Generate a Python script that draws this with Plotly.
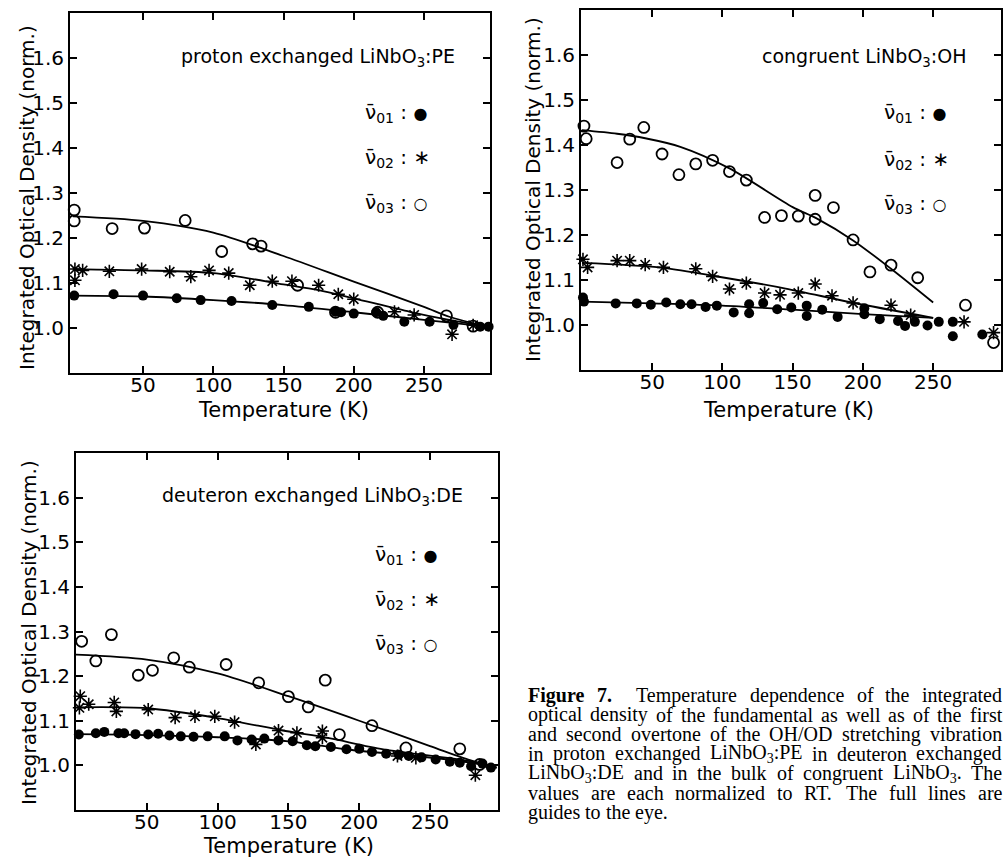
import re
import plotly.graph_objects as go

W, H = 1003, 859

# ---------------- data (Temperature in K, normalized integrated optical density) -------------
# proton exchanged LiNbO3:PE
pe_T01 = [1, 29, 50, 74, 91, 113, 142, 168, 187, 191, 200, 216, 221, 236, 254, 271, 290, 296]
pe_v01 = [1.072, 1.075, 1.072, 1.066, 1.062, 1.060, 1.051, 1.047, 1.036, 1.035, 1.032, 1.035,
          1.027, 1.014, 1.014, 1.007, 1.003, 1.003]
pe_T02 = [1.5, 1.5, 7, 26, 49, 69, 84, 97, 111, 126, 142, 156, 175, 189, 200, 229, 243, 270, 285]
pe_v02 = [1.131, 1.106, 1.128, 1.126, 1.131, 1.125, 1.114, 1.128, 1.122, 1.095, 1.104, 1.104,
          1.095, 1.075, 1.064, 1.036, 1.029, 0.986, 1.006]
pe_T03 = [1, 1, 28, 51, 80, 106, 128, 134, 160, 187, 217, 266, 285]
pe_v03 = [1.262, 1.238, 1.221, 1.222, 1.239, 1.170, 1.187, 1.182, 1.095, 1.035, 1.035, 1.027, 1.004]
pe_Tc01 = [0, 50, 100, 150, 200, 250, 295]
pe_vc01 = [1.072, 1.070, 1.062, 1.051, 1.035, 1.018, 1.003]
pe_Tc02 = [0, 50, 100, 150, 175, 200, 240, 266, 295]
pe_vc02 = [1.131, 1.128, 1.122, 1.097, 1.084, 1.066, 1.036, 1.019, 1.003]
pe_Tc03 = [0, 50, 100, 150, 200, 250, 268, 295]
pe_vc03 = [1.248, 1.238, 1.212, 1.160, 1.103, 1.047, 1.025, 1.003]

# congruent LiNbO3:OH
oh_T01 = [0.7, 1.4, 24, 39, 49, 60, 70, 78, 88, 96, 108, 119, 119, 129, 139, 149, 160, 160, 171,
          182, 201, 201, 212, 225, 230, 237, 246, 254, 264, 264, 285]
oh_v01 = [1.061, 1.052, 1.048, 1.048, 1.045, 1.050, 1.046, 1.046, 1.040, 1.043, 1.028, 1.046,
          1.026, 1.049, 1.035, 1.039, 1.043, 1.020, 1.034, 1.018, 1.037, 1.024, 1.013, 1.009,
          0.998, 1.007, 0.999, 1.007, 1.007, 0.975, 0.979]
oh_T02 = [0.7, 4, 25, 34, 45, 58, 81, 93, 105, 117, 130, 141, 154, 166, 178, 193, 220, 234, 272, 293]
oh_v02 = [1.146, 1.128, 1.143, 1.143, 1.134, 1.128, 1.125, 1.108, 1.080, 1.093, 1.071, 1.067,
          1.071, 1.091, 1.065, 1.049, 1.044, 1.022, 1.007, 0.983]
oh_T03 = [1.4, 3, 25, 34, 44, 57, 69, 81, 93, 105, 117, 130, 142, 154, 166, 166, 179, 193, 205,
          220, 239, 273, 293]
oh_v03 = [1.442, 1.414, 1.361, 1.413, 1.439, 1.380, 1.334, 1.358, 1.366, 1.341, 1.322, 1.239,
          1.243, 1.242, 1.288, 1.235, 1.261, 1.189, 1.118, 1.133, 1.105, 1.044, 0.961]
oh_Tc01 = [0, 50, 100, 150, 200, 250]
oh_vc01 = [1.052, 1.048, 1.043, 1.034, 1.024, 1.016]
oh_Tc02 = [0, 55, 92, 145, 192, 250]
oh_vc02 = [1.138, 1.128, 1.110, 1.081, 1.050, 1.016]
oh_Tc03 = [0, 25, 45, 70, 105, 150, 167, 193, 220, 250]
oh_vc03 = [1.433, 1.425, 1.415, 1.396, 1.348, 1.262, 1.237, 1.188, 1.125, 1.050]

# deuteron exchanged LiNbO3:DE
de_T01 = [2, 14, 20, 30, 34, 42, 51, 58, 66, 74, 83, 93, 105, 114, 124, 133, 143, 153, 163, 169,
          180, 191, 200, 209, 219, 228, 235, 244, 254, 264, 271, 279, 287, 293]
de_v01 = [1.069, 1.072, 1.075, 1.072, 1.072, 1.070, 1.069, 1.071, 1.067, 1.065, 1.064, 1.065,
          1.065, 1.056, 1.058, 1.060, 1.056, 1.054, 1.045, 1.043, 1.041, 1.036, 1.037, 1.030,
          1.026, 1.024, 1.021, 1.018, 1.013, 1.008, 1.006, 0.998, 1.004, 0.995]
de_T02 = [3, 2.4, 9, 27, 28.5, 51, 70, 84, 98, 112, 127, 143, 156, 174, 174, 227, 240, 282]
de_v02 = [1.155, 1.129, 1.137, 1.141, 1.121, 1.125, 1.107, 1.110, 1.110, 1.097, 1.047, 1.078,
          1.073, 1.077, 1.062, 1.021, 1.017, 0.978]
de_T03 = [4, 14, 25, 44, 54, 69, 80, 106, 129, 150, 164, 176, 186, 209, 233, 271, 285]
de_v03 = [1.278, 1.234, 1.293, 1.202, 1.213, 1.241, 1.220, 1.226, 1.185, 1.154, 1.131, 1.191,
          1.069, 1.089, 1.039, 1.037, 1.002]
de_Tc01 = [0, 50, 100, 150, 193, 240, 277, 297]
de_vc01 = [1.070, 1.068, 1.063, 1.054, 1.035, 1.021, 1.007, 0.995]
de_Tc02 = [0, 50, 100, 148, 177, 217, 277, 297]
de_vc02 = [1.130, 1.128, 1.106, 1.077, 1.062, 1.036, 1.010, 0.995]
de_Tc03 = [0, 50, 100, 150, 200, 250, 277, 297]
de_vc03 = [1.248, 1.237, 1.206, 1.155, 1.100, 1.043, 1.013, 0.995]

x_tickvals = [50, 100, 150, 200, 250]
y_tickvals = [1.0, 1.1, 1.2, 1.3, 1.4, 1.5, 1.6]
y_ticktext = ["1.0", "1.1", "1.2", "1.3", "1.4", "1.5", "1.6"]

panel_titles = ["proton exchanged LiNbO<sub>3</sub>:PE",
                "congruent LiNbO<sub>3</sub>:OH",
                "deuteron exchanged LiNbO<sub>3</sub>:DE"]
legend_labels = ["\u03bd\u0304<sub>01</sub> : <span style='font-size:16px'>\u25cf</span>",
                 "\u03bd\u0304<sub>02</sub> : \u2217",
                 "\u03bd\u0304<sub>03</sub> : <span style='font-size:16px'>\u25cb</span>"]
x_title = "Temperature (K)"
y_title = "Integrated Optical Density (norm.)"

caption_lines = [
    ["<b>Figure</b>", "<b>7.</b>", "Temperature", "dependence", "of", "the", "integrated"],
    "optical density of the fundamental as well as of the first".split(),
    "and second overtone of the OH/OD stretching vibration".split(),
    "in proton exchanged LiNbO<sub>3</sub>:PE in deuteron exchanged".split(),
    "LiNbO<sub>3</sub>:DE and in the bulk of congruent LiNbO<sub>3</sub>. The".split(),
    "values are each normalized to RT. The full lines are".split(),
    "guides to the eye.".split(),
]

# ---------------- layout geometry (pixels) ----------------
SANS = "DejaVu Sans"
panels = [
    dict(xpx=(70, 490), ypx=(13, 373), xr=[-2, 297],
         data=[(pe_Tc01, pe_vc01), (pe_Tc02, pe_vc02), (pe_Tc03, pe_vc03)],
         pts=[(pe_T01, pe_v01), (pe_T02, pe_v02), (pe_T03, pe_v03)],
         title_xy=(457, 57), leg_xy=(363, [113, 158, 203]),
         ytitle_xy=(27, 198), xtitle_xy=(283, 410)),
    dict(xpx=(581, 1001), ypx=(10, 370), xr=[-0.7, 298.3],
         data=[(oh_Tc01, oh_vc01), (oh_Tc02, oh_vc02), (oh_Tc03, oh_vc03)],
         pts=[(oh_T01, oh_v01), (oh_T02, oh_v02), (oh_T03, oh_v03)],
         title_xy=(968, 57), leg_xy=(882, [113, 160, 204]),
         ytitle_xy=(533, 190), xtitle_xy=(788, 410)),
    dict(xpx=(76, 498), ypx=(453, 810), xr=[0, 298],
         data=[(de_Tc01, de_vc01), (de_Tc02, de_vc02), (de_Tc03, de_vc03)],
         pts=[(de_T01, de_v01), (de_T02, de_v02), (de_T03, de_v03)],
         title_xy=(465, 496), leg_xy=(373, [555, 600, 644]),
         ytitle_xy=(29, 633), xtitle_xy=(288, 846)),
]

def px(x):
    return x / W

def py(y):
    return 1 - y / H

fig = go.Figure()
annotations = []
layout_axes = {}

markers = [
    dict(symbol="circle", size=10, color="black"),
    dict(symbol="asterisk-open", size=11, color="black", line=dict(width=1.6, color="black")),
    dict(symbol="circle-open", size=11, color="black", line=dict(width=1.8, color="black")),
]

for i, p in enumerate(panels):
    sfx = "" if i == 0 else str(i + 1)
    xa, ya = "x" + sfx, "y" + sfx
    axis_common = dict(showline=True, linewidth=2, linecolor="black", mirror="ticks",
                       ticks="inside", ticklen=7, tickwidth=1.5, tickcolor="black",
                       showgrid=False, zeroline=False,
                       tickfont=dict(family=SANS, size=20, color="black"))
    layout_axes["xaxis" + sfx] = dict(axis_common, domain=[px(p["xpx"][0]), px(p["xpx"][1])],
                                      range=p["xr"], tickvals=x_tickvals, anchor=ya,
                                      ticklabelstandoff=-7)
    layout_axes["yaxis" + sfx] = dict(axis_common, domain=[py(p["ypx"][1]), py(p["ypx"][0])],
                                      range=[0.9, 1.7], tickvals=y_tickvals,
                                      ticktext=y_ticktext, anchor=xa)
    for (cx, cy) in p["data"]:
        fig.add_trace(go.Scatter(x=cx, y=cy, mode="lines", xaxis=xa, yaxis=ya,
                                 line=dict(color="black", width=1.8, shape="spline",
                                           smoothing=0.8),
                                 showlegend=False, hoverinfo="skip"))
    for k, (tx, tv) in enumerate(p["pts"]):
        fig.add_trace(go.Scatter(x=tx, y=tv, mode="markers", xaxis=xa, yaxis=ya,
                                 marker=markers[k], cliponaxis=False, showlegend=False))
    annotations.append(dict(text=panel_titles[i], x=px(p["title_xy"][0]), y=py(p["title_xy"][1]),
                            xref="paper", yref="paper", xanchor="right", yanchor="middle",
                            showarrow=False, font=dict(family=SANS, size=19, color="black")))
    lx, lys = p["leg_xy"]
    for k, ly in enumerate(lys):
        annotations.append(dict(text=legend_labels[k], x=px(lx), y=py(ly),
                                xref="paper", yref="paper", xanchor="left", yanchor="middle",
                                showarrow=False, font=dict(family=SANS, size=20, color="black")))
    annotations.append(dict(text=y_title, x=px(p["ytitle_xy"][0]), y=py(p["ytitle_xy"][1]),
                            xref="paper", yref="paper", xanchor="center", yanchor="middle",
                            textangle=-90, showarrow=False,
                            font=dict(family=SANS, size=20, color="black")))
    annotations.append(dict(text=x_title, x=px(p["xtitle_xy"][0]), y=py(p["xtitle_xy"][1]),
                            xref="paper", yref="paper", xanchor="center", yanchor="middle",
                            showarrow=False, font=dict(family=SANS, size=21, color="black")))

# ---------------- caption (justified, Times metrics) ----------------
TIMES = dict(zip("abcdefghijklmnopqrstuvwxyz",
                 [444, 500, 444, 500, 444, 333, 500, 500, 278, 278, 500, 278, 778, 500, 500,
                  500, 500, 333, 389, 278, 500, 500, 722, 500, 500, 444]))
TIMES.update(dict(zip("ABCDEFGHIJKLMNOPQRSTUVWXYZ",
                      [722, 667, 667, 722, 611, 556, 722, 722, 333, 389, 722, 611, 889, 722,
                       722, 556, 722, 667, 556, 611, 722, 722, 944, 722, 722, 611])))
TIMES.update({c: 500 for c in "0123456789"})
TIMES.update({".": 250, ",": 250, ":": 278, "/": 278, " ": 250})
TIMES_B = {"F": 611, "i": 278, "g": 500, "u": 556, "r": 444, "e": 444, "7": 500, ".": 250}
CAP_SIZE = 20
CAP_X0, CAP_X1 = 527, 1001
CAP_Y0, CAP_DY = 695, 19.5

def word_width(word):
    bold = word.startswith("<b>")
    w = re.sub(r"</?b>", "", word)
    total = 0.0
    for part in re.split(r"(<sub>.*?</sub>)", w):
        if part.startswith("<sub>"):
            total += 0.7 * sum(TIMES[c] for c in part[5:-6])
        else:
            tbl = TIMES_B if bold else TIMES
            total += sum(tbl.get(c, TIMES.get(c, 500)) for c in part)
    return total / 1000 * CAP_SIZE

for li, words in enumerate(caption_lines):
    y = CAP_Y0 + li * CAP_DY
    widths = [word_width(w) for w in words]
    weights = [2 if words[j] == "<b>7.</b>" else 1 for j in range(len(words) - 1)]
    if li < len(caption_lines) - 1:
        gap_unit = (CAP_X1 - CAP_X0 - sum(widths)) / sum(weights)
    else:
        gap_unit = TIMES[" "] / 1000 * CAP_SIZE
    x = CAP_X0
    for j, w in enumerate(words):
        annotations.append(dict(text=w, x=px(x), y=py(y), xref="paper", yref="paper",
                                xanchor="left", yanchor="middle", showarrow=False,
                                borderpad=0,
                                font=dict(family="Liberation Serif", size=CAP_SIZE,
                                          color="black")))
        if j < len(words) - 1:
            x += widths[j] + gap_unit * weights[j]

fig.update_layout(width=W, height=H, margin=dict(l=0, r=0, t=0, b=0),
                  paper_bgcolor="white", plot_bgcolor="white",
                  annotations=annotations, **layout_axes)

fig.write_html("out.html")
